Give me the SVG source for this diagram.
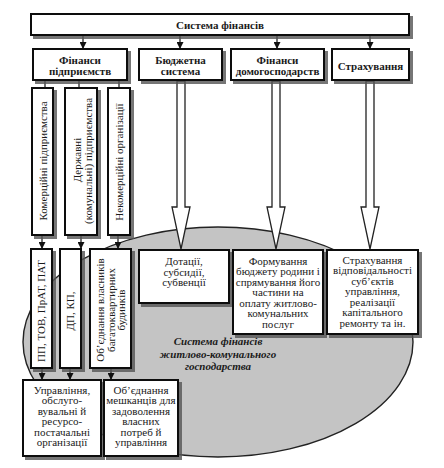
<svg xmlns="http://www.w3.org/2000/svg" width="444" height="468" viewBox="0 0 444 468">
<defs>
<style>
.box{fill:#fff;stroke:#111;stroke-width:2;filter:url(#shadow)}
text{font-family:"Liberation Serif","Times New Roman",serif;font-size:11px;fill:#1a1a1a;text-anchor:middle}
.b{font-weight:bold}
.i{font-weight:bold;font-style:italic}
.ln{stroke:#111;stroke-width:1.2;fill:none}
.arr{stroke:#111;stroke-width:1.2;fill:none;marker-end:url(#ah)}
.big{fill:#fff;stroke:#222;stroke-width:1.3}
.ell{fill:#c4c4c4;stroke:#222;stroke-width:1.4}
</style>
<filter id="shadow" x="-10%" y="-10%" width="130%" height="130%">
<feDropShadow dx="3" dy="3" stdDeviation="0.7" flood-color="#555" flood-opacity="0.8"/>
</filter>
<marker id="ah" markerWidth="7" markerHeight="7" refX="7" refY="3.5" orient="auto" markerUnits="userSpaceOnUse">
<path d="M0,0 L7,3.5 L0,7 Z" fill="#111"/>
</marker>
</defs>

<g id="area">
<ellipse class="ell" cx="218" cy="342" rx="195" ry="115"/>
<text class="i" x="218" y="345">Система фінансів</text>
<text class="i" x="218" y="357.5">житлово-комунального</text>
<text class="i" x="218" y="370">господарства</text>
</g>

<g id="connectors">
<line class="arr" x1="83" y1="35" x2="83" y2="49"/>
<line class="arr" x1="180" y1="35" x2="180" y2="49"/>
<line class="arr" x1="277" y1="35" x2="277" y2="49"/>
<line class="arr" x1="370" y1="35" x2="370" y2="49"/>
<line class="ln" x1="45" y1="80" x2="45" y2="88"/>
<line class="ln" x1="79" y1="80" x2="79" y2="88"/>
<line class="ln" x1="119" y1="80" x2="119" y2="88"/>
<line class="arr" x1="42" y1="235" x2="42" y2="249"/>
<line class="arr" x1="81" y1="235" x2="81" y2="249"/>
<line class="arr" x1="118" y1="235" x2="118" y2="249"/>
<line class="arr" x1="42" y1="368" x2="42" y2="380"/>
<line class="arr" x1="70" y1="368" x2="70" y2="380"/>
<line class="arr" x1="111" y1="368" x2="111" y2="380"/>
<polygon class="big" points="177,81 185,81 185,207 190,207 181,249 172,207 177,207"/>
<polygon class="big" points="272,81 280,81 280,207 285,207 276,249 267,207 272,207"/>
<polygon class="big" points="366,81 374,81 374,207 379,207 370,249 361,207 366,207"/>
</g>

<g id="n-top">
<rect class="box" x="31" y="14" width="378" height="21"/>
<text class="b" x="220" y="28.5">Система фінансів</text>
</g>

<g id="n-fp">
<rect class="box" x="33" y="49" width="94" height="31"/>
<text class="b" x="80" y="63.5">Фінанси</text>
<text class="b" x="80" y="75">підприємств</text>
</g>
<g id="n-bs">
<rect class="box" x="139" y="49" width="83" height="31"/>
<text class="b" x="180.5" y="63.5">Бюджетна</text>
<text class="b" x="180.5" y="75">система</text>
</g>
<g id="n-fd">
<rect class="box" x="231" y="49" width="93" height="31"/>
<text class="b" x="277.5" y="63.5">Фінанси</text>
<text class="b" x="277.5" y="75">домогосподарств</text>
</g>
<g id="n-st">
<rect class="box" x="332" y="49" width="77" height="31"/>
<text class="b" x="370.5" y="69.5">Страхування</text>
</g>

<g id="n-kom">
<rect class="box" x="32" y="88" width="21" height="147"/>
<text transform="rotate(-90 47 161)" x="47" y="161">Комерційні підприємства</text>
</g>
<g id="n-derzh">
<rect class="box" x="65" y="88" width="32" height="147"/>
<text transform="rotate(-90 80.5 160)" x="80.5" y="160">Державні</text>
<text transform="rotate(-90 91.5 161)" x="91.5" y="161">(комунальні) підприємства</text>
</g>
<g id="n-nekom">
<rect class="box" x="108" y="88" width="22" height="147"/>
<text transform="rotate(-90 123 162)" x="123" y="162">Некомерційні організації</text>
</g>

<g id="n-pp">
<rect class="box" x="31" y="249" width="21" height="119"/>
<text transform="rotate(-90 45 311)" x="45" y="311">ПП, ТОВ, ПрАТ, ПАТ</text>
</g>
<g id="n-dp">
<rect class="box" x="60" y="249" width="21" height="119"/>
<text transform="rotate(-90 74 311)" x="74" y="311">ДП, КП,</text>
</g>
<g id="n-osbb">
<rect class="box" x="90" y="249" width="41" height="119"/>
<text transform="rotate(-90 104 310)" x="104" y="310">Об’єднання власників</text>
<text transform="rotate(-90 114.5 310)" x="114.5" y="310">багатоквартирних</text>
<text transform="rotate(-90 125 310)" x="125" y="310">будинків</text>
</g>

<g id="n-dot">
<rect class="box" x="139" y="250" width="90" height="53"/>
<text x="184" y="265">Дотації,</text>
<text x="184" y="275.5">субсидії,</text>
<text x="184" y="286">субвенції</text>
</g>
<g id="n-form">
<rect class="box" x="233" y="250" width="90" height="84"/>
<text x="278" y="264.5">Формування</text>
<text x="278" y="275">бюджету родини і</text>
<text x="278" y="285.5">спрямування його</text>
<text x="278" y="296">частини на</text>
<text x="278" y="306.5">оплату житлово-</text>
<text x="278" y="317">комунальних</text>
<text x="278" y="327.5">послуг</text>
</g>
<g id="n-strakh">
<rect class="box" x="327" y="250" width="91" height="84"/>
<text x="372.5" y="263.5">Страхування</text>
<text x="372.5" y="274">відповідальності</text>
<text x="372.5" y="284.5">суб’єктів</text>
<text x="372.5" y="295">управління,</text>
<text x="372.5" y="305.5">реалізації</text>
<text x="372.5" y="316">капітального</text>
<text x="372.5" y="326.5">ремонту та ін.</text>
</g>

<g id="n-upr">
<rect class="box" x="23" y="380" width="78" height="76"/>
<text x="62" y="393.5">Управління,</text>
<text x="62" y="404">обслуго-</text>
<text x="62" y="414.5">вувальні й</text>
<text x="62" y="425">ресурсо-</text>
<text x="62" y="435.5">постачальні</text>
<text x="62" y="446">організації</text>
</g>
<g id="n-ob">
<rect class="box" x="104" y="380" width="74" height="76"/>
<text x="141" y="393.5">Об’єднання</text>
<text x="141" y="404">мешканців для</text>
<text x="141" y="414.5">задоволення</text>
<text x="141" y="425">власних</text>
<text x="141" y="435.5">потреб й</text>
<text x="141" y="446">управління</text>
</g>
</svg>
